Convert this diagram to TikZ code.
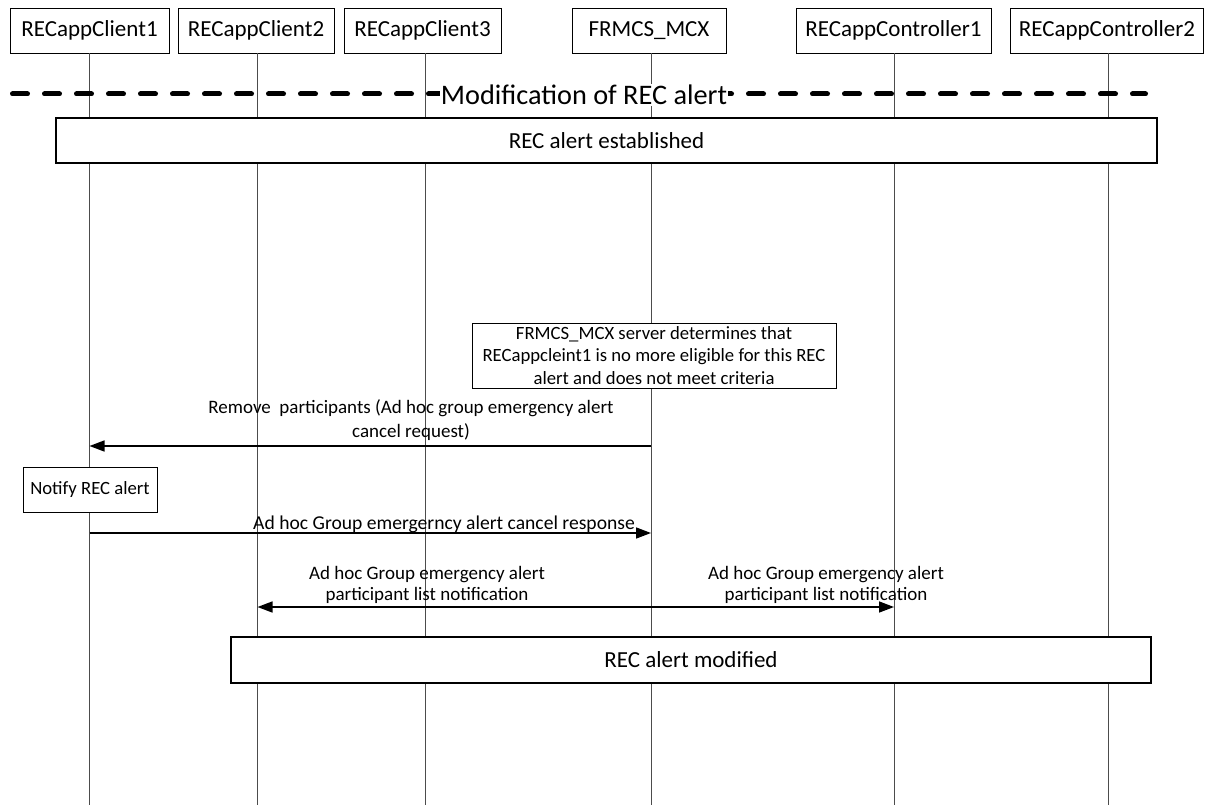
\documentclass[tikz,border=0pt]{standalone}
\usepackage{fontspec}
\setmainfont{Carlito}
\usetikzlibrary{arrows.meta}
\begin{document}
\begin{tikzpicture}[x=1pt,y=-1pt,
  hdr/.style={draw=black, line width=0.8pt, fill=white, minimum height=45pt, inner sep=0pt, font=\fontsize{23}{27}\selectfont},
  bar/.style={draw=black, line width=2.5pt, fill=white, inner sep=0pt, font=\fontsize{23}{27}\selectfont},
  notebox/.style={draw=black, line width=0.8pt, fill=white, inner sep=0pt, align=center, font=\fontsize{18.7}{22.5}\selectfont},
  lbl/.style={inner sep=0pt, align=center, font=\fontsize{19}{23.5}\selectfont},
  life/.style={draw=black!70, line width=1pt},
  msg/.style={draw=black, line width=1.5pt, -{Triangle[length=15pt,width=11pt]}},
  dmsg/.style={draw=black, line width=1.5pt, {Triangle[length=15pt,width=11pt]}-{Triangle[length=15pt,width=11pt]}},
  sep/.style={draw=black, line width=5pt, line cap=round, dash pattern=on 15pt off 17pt},
]
\useasboundingbox (0,0) rectangle (1207,805);

% lifeline bottoms
\coordinate (b1) at (89.5,805);
\coordinate (b2) at (257.5,805);
\coordinate (b3) at (425,805);
\coordinate (b4) at (651,805);
\coordinate (b5) at (894,805);
\coordinate (b6) at (1108,805);

% headers
\node[hdr, minimum width=159pt] (h1) at (89.5,30.5) {RECappClient1};
\node[hdr, minimum width=156pt] (h2) at (256,30.5) {RECappClient2};
\node[hdr, minimum width=157pt] (h3) at (422.5,30.5) {RECappClient3};
\node[hdr, minimum width=154pt] (h4) at (649,30.5) {FRMCS\_MCX};
\node[hdr, minimum width=195pt] (h5) at (893.5,30.5) {RECappController1};
\node[hdr, minimum width=193pt] (h6) at (1107,30.5) {RECappController2};

% lifelines
\foreach \i in {1,...,6} {\draw[life] (h\i.south -| b\i) -- (b\i);}

% separator
\coordinate (sl) at (12.5,94);
\coordinate (sr) at (1145.5,94);
\draw[sep] (sl) -- (sr);
\node[fill=white, inner sep=1pt, font=\fontsize{28.3}{32}\selectfont] (sepl) at (584,95) {Modification of REC alert};

% established
\node[bar, minimum width=1101pt, minimum height=45pt] (est) at (606.5,140.5) {REC alert established};

% note
\node[notebox, minimum width=364pt, minimum height=65pt] (nt) at (654,355.5) {FRMCS\_MCX server determines that\\RECappcleint1 is no more eligible for this REC\\alert and does not meet criteria};

% rows
\coordinate (r1) at (0,446);
\coordinate (r2) at (0,533);
\coordinate (r3) at (0,607);

\draw[msg] (b4 |- r1) -- (b1 |- r1);
\node[lbl] (l1) at (411,420) {Remove\ \ participants (Ad hoc group emergency alert\\cancel request)};

\node[notebox, minimum width=134pt, minimum height=45pt] (nf) at (90,489.5) {Notify REC alert};

\draw[msg] (b1 |- r2) -- (b4 |- r2);
\node[lbl, font=\fontsize{19.6}{23.5}\selectfont] (l2) at (444,524) {Ad hoc Group emergerncy alert cancel response};

\draw[dmsg] (b2 |- r3) -- (b5 |- r3);
\node[lbl, font=\fontsize{19}{20.5}\selectfont] (l3) at (427,585) {Ad hoc Group emergency alert\\participant list notification};
\node[lbl, font=\fontsize{19}{20.5}\selectfont] (l4) at (826,585) {Ad hoc Group emergency alert\\participant list notification};

% modified
\node[bar, minimum width=920pt, minimum height=46pt] (mod) at (691,660) {REC alert modified};
\end{tikzpicture}
\end{document}
